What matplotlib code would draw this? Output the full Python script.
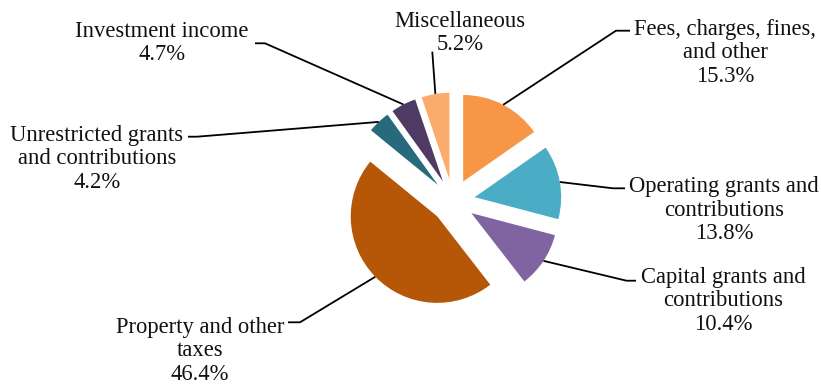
import numpy as np
import matplotlib
matplotlib.use("Agg")
import matplotlib.pyplot as plt

categories = ["Fees, charges, fines,\nand other", "Operating grants and\ncontributions",
              "Capital grants and\ncontributions", "Property and other\ntaxes",
              "Unrestricted grants\nand contributions", "Investment income", "Miscellaneous"]
values = [15.3, 13.8, 10.4, 46.4, 4.2, 4.7, 5.2]
colors = ["#F79646", "#4BACC6", "#8064A2", "#B65708", "#276A7C", "#4F3A63", "#F9AC6C"]

# layout (figure is 821x385 px, axes data units = px, y up)
W, H = 821, 385
center = (453, 184)
radius = 86.5
expl = 22.0  # absolute offset in data units

# text centres and leader elbows/ends for each label
text_pos = [(725, 332), (724, 175), (723, 84), (200, 34), (97, 226), (162, 342), (460, 352)]
elbows = [((616, 354.3), (630, 354.3)),
          ((613, 196.7), (625, 196.7)),
          ((626.5, 104.3), (636, 104.3)),
          ((300, 62.7), (288, 62.7)),
          ((197, 248.3), (188, 248.3)),
          ((265, 341.7), (255, 341.7)),
          ((432.3, 333.3), (432.3, 333.3))]

plt.rcParams['font.family'] = ['Liberation Serif', 'DejaVu Serif']
fig = plt.figure(figsize=(W / 100, H / 100), dpi=100)
ax = fig.add_axes([0, 0, 1, 1])

wedges, _ = ax.pie(values, colors=colors, startangle=90, counterclock=False,
                   radius=radius, center=center, explode=[expl] * len(values),
                   wedgeprops=dict(linewidth=0), frame=True)
ax.set_xlim(0, W)
ax.set_ylim(0, H)
ax.set_aspect('equal')
ax.axis('off')

for w, cat, v, tp, (el, en) in zip(wedges, categories, values, text_pos, elbows):
    theta = np.deg2rad((w.theta1 + w.theta2) / 2)
    rr = radius + expl
    ax_pt = (center[0] + rr * np.cos(theta), center[1] + rr * np.sin(theta))
    ax.plot([ax_pt[0], el[0], en[0]], [ax_pt[1], el[1], en[1]], color='black', lw=1.3,
            solid_capstyle='butt')
    ax.text(tp[0], tp[1], f"{cat}\n{v:.1f}%", ha='center', va='center',
            fontsize=16.3, linespacing=1.18, color='#111111')

fig.savefig("out.png", dpi=100)
